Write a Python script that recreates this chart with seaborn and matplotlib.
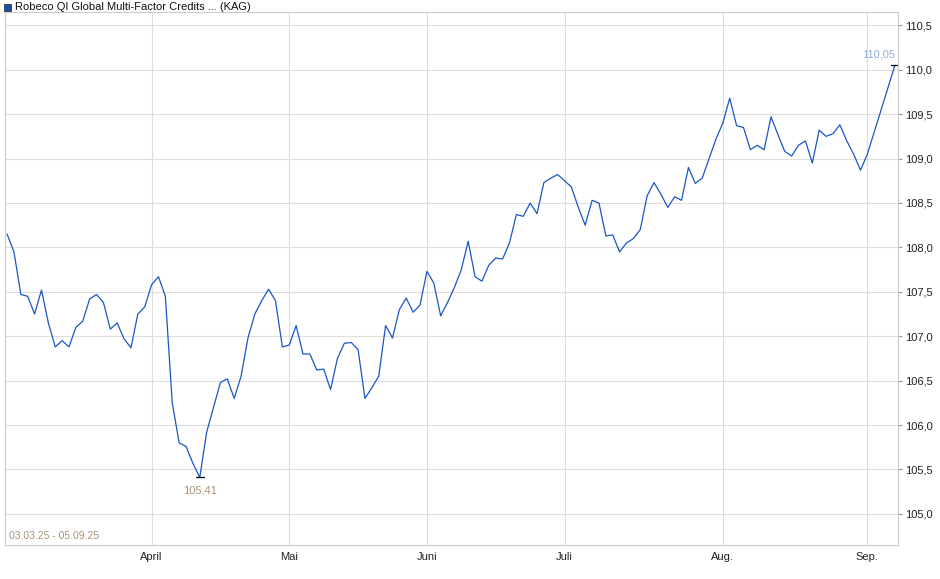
import numpy as np
import pandas as pd
import matplotlib
matplotlib.use("Agg")
import matplotlib.pyplot as plt
from matplotlib.ticker import FuncFormatter, MultipleLocator
import seaborn as sns

mar = [108.15, 107.95, 107.47, 107.45, 107.25, 107.52, 107.15, 106.88, 106.95, 106.88, 107.1,
       107.17, 107.42, 107.47, 107.38, 107.08, 107.15, 106.97, 106.87, 107.25, 107.33]
apr = [107.58, 107.67, 107.45, 106.25, 105.8, 105.76, 105.57, 105.41, 105.92, 106.2,
       106.48, 106.52, 106.3, 106.55, 106.98, 107.25, 107.4, 107.53, 107.4, 106.88]
may = [106.9, 107.12, 106.8, 106.8, 106.62, 106.63, 106.4, 106.75, 106.92, 106.93,
       106.85, 106.3, 106.42, 106.55, 107.12, 106.98, 107.3, 107.43, 107.27, 107.35]
jun = [107.73, 107.6, 107.23, 107.38, 107.55, 107.75, 108.07, 107.67, 107.62, 107.8, 107.88,
       107.87, 108.05, 108.37, 108.35, 108.5, 108.38, 108.73, 108.78, 108.82]
jul = [108.75, 108.68, 108.45, 108.25, 108.53, 108.5, 108.13, 108.14, 107.95, 108.05, 108.1,
       108.2, 108.58, 108.73, 108.6, 108.45, 108.57, 108.53, 108.9, 108.72, 108.78, 109.0, 109.22]
aug = [109.4, 109.68, 109.37, 109.35, 109.1, 109.15, 109.1, 109.47, 109.27, 109.08, 109.03,
       109.15, 109.2, 108.95, 109.32, 109.25, 109.28, 109.38, 109.2, 109.05, 108.87]
sep = [109.05, 109.3, 109.55, 109.8, 110.05]

holidays = ["2025-04-18", "2025-04-21", "2025-05-01", "2025-05-29", "2025-06-09"]
values = mar + apr + may + jun + jul + aug + sep
dates = pd.bdate_range("2025-03-03", "2025-09-05")
dates = dates[~dates.isin(pd.to_datetime(holidays))]
df = pd.DataFrame({"idx": np.arange(len(values)), "value": values})

month_ticks = ["2025-04-01", "2025-05-02", "2025-06-02", "2025-07-01", "2025-08-01", "2025-09-01"]
month_labels = ["April", "Mai", "Juni", "Juli", "Aug.", "Sep."]

sns.set_style("white")
plt.rcParams["font.family"] = ["Liberation Sans", "DejaVu Sans"]

fig = plt.figure(figsize=(9.4, 5.79), dpi=100)
ax = fig.add_axes([5 / 940, 34 / 579, 893 / 940, 533 / 579])

sns.lineplot(data=df, x="idx", y="value", ax=ax, color="#1a56c4", linewidth=0.9)

n = len(values)
ax.set_xlim(-0.3, n - 1 + 0.45)
ax.set_ylim(104.65, 110.65)
ax.yaxis.tick_right()
ax.yaxis.set_major_locator(MultipleLocator(0.5))
ax.yaxis.set_major_formatter(FuncFormatter(lambda v, p: f"{v:.1f}".replace(".", ",")))
ax.set_xticks([int(dates.get_indexer([pd.Timestamp(m)])[0]) for m in month_ticks])
ax.set_xticklabels(month_labels)
ax.tick_params(labelsize=8, length=3, color="#999999", colors="#222222", pad=2)
ax.grid(True, color="#dddddd", linewidth=0.8)
ax.set_xlabel("")
ax.set_ylabel("")
for s in ax.spines.values():
    s.set_color("#cccccc")
    s.set_linewidth(0.8)

# min / max markers
imin = int(np.argmin(values))
imax = int(np.argmax(values))
for i, col, dy, va, dx in [(imin, "#a89378", -6, "top", 0), (imax, "#94acd4", 4, "bottom", -12)]:
    ax.plot([i - 0.6, i + 0.6], [values[i]] * 2, color="black", lw=0.9)
    ax.annotate(f"{values[i]:.2f}".replace(".", ","), (i, values[i]), xytext=(dx, dy),
                textcoords="offset points", ha="center", va=va, fontsize=8, color=col)

ax.text(0.004, 0.008, "03.03.25 - 05.09.25", transform=ax.transAxes, fontsize=7.5,
        color="#a89378", va="bottom", ha="left")

fig.patches.append(plt.Rectangle((4 / 940, 1 - 11 / 579), 7 / 940, 7 / 579, transform=fig.transFigure,
                                 facecolor="#1a4fa8", edgecolor="#222222", lw=0.5))
fig.text(15 / 940, 1 - 7 / 579, "Robeco QI Global Multi-Factor Credits ... (KAG)", fontsize=8,
         va="center", ha="left", color="#111111")

fig.savefig("out.png", dpi=100)
